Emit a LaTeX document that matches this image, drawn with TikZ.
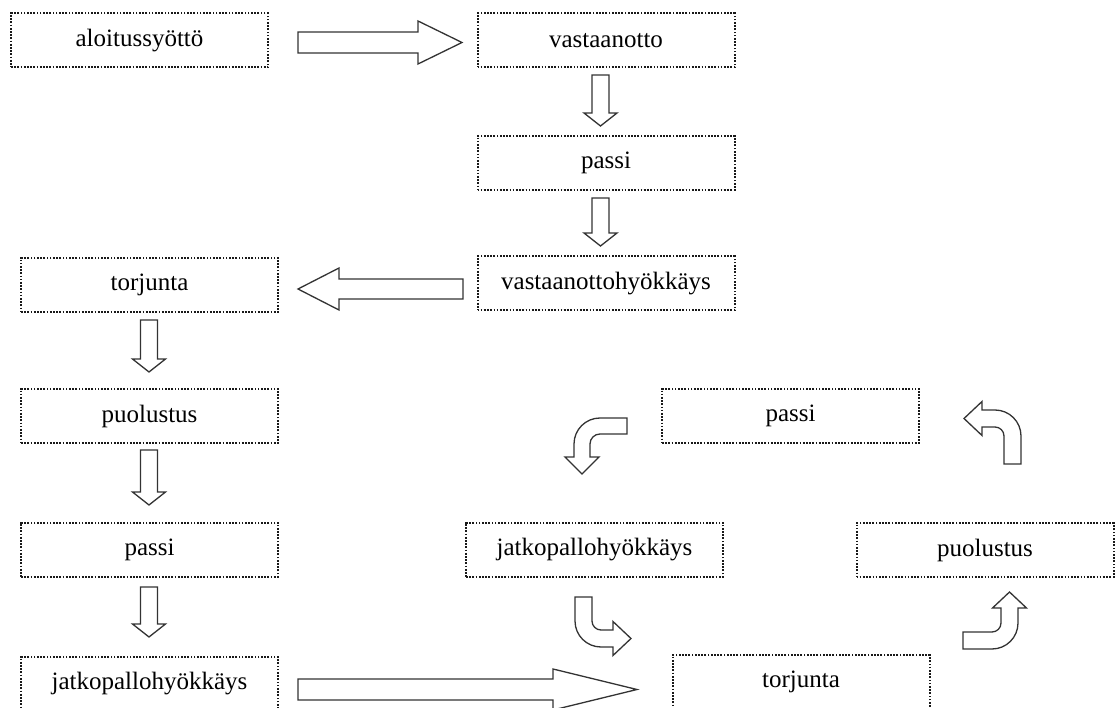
\documentclass[tikz,border=0pt]{standalone}
\usepackage{fontspec}
\setmainfont{Liberation Serif}
\begin{document}
\begin{tikzpicture}[x=1pt,y=-1pt,
  stagebox/.style={draw=black!90, line width=2pt, dash pattern=on 1.7pt off 1.5pt,
    minimum width=257pt, minimum height=54pt, inner sep=0pt,
    font=\fontsize{25pt}{30pt}\selectfont, text=black},
  blockarrow/.style={draw=black!80, line width=1.3pt, fill=white, line join=miter}]
\clip (0,0) rectangle (1117,708);
\fill[white] (0,0) rectangle (1117,708);

% boxes
\node[stagebox] (aloitus) at (139.5,40.5) {aloitussyöttö};
\node[stagebox] (vastaanotto) at (606,40.5) {vastaanotto};
\node[stagebox] (passiA) at (606,163) {passi};
\node[stagebox] (vhyok) at (606,283.5) {vastaanottohyökkäys};
\node[stagebox] (torjA) at (149.5,285) {torjunta};
\node[stagebox] (puolA) at (149.5,416) {puolustus};
\node[stagebox] (passiB) at (149.5,549.5) {passi};
\node[stagebox] (jatkoA) at (149.5,684) {jatkopallohyökkäys};
\node[stagebox] (passiC) at (790.5,416) {passi};
\node[stagebox] (jatkoB) at (594.5,549.5) {jatkopallohyökkäys};
\node[stagebox] (puolB) at (985,550) {puolustus};
\node[stagebox] (torjB) at (801,682) {torjunta};

% straight block arrows
\draw[blockarrow] (298,32) -- (418,32) -- (418,21) -- (462,42.5) -- (418,64) -- (418,53) -- (298,53) -- cycle;
\draw[blockarrow] (298,679) -- (553,679) -- (553,669) -- (637,689.5) -- (553,710) -- (553,700) -- (298,700) -- cycle;
\draw[blockarrow] (463,279) -- (339,279) -- (339,268) -- (298,289) -- (339,310) -- (339,299) -- (463,299) -- cycle;

\draw[blockarrow] (592,75) -- (609,75) -- (609,113) -- (617,113) -- (600.5,126) -- (584,113) -- (592,113) -- cycle;
\draw[blockarrow] (592,198) -- (609,198) -- (609,233) -- (617,233) -- (600.5,246) -- (584,233) -- (592,233) -- cycle;

\draw[blockarrow] (140.5,320) -- (157.5,320) -- (157.5,359) -- (165.5,359) -- (149,372) -- (132.5,359) -- (140.5,359) -- cycle;
\draw[blockarrow] (140.5,450) -- (157.5,450) -- (157.5,492) -- (165.5,492) -- (149,505) -- (132.5,492) -- (140.5,492) -- cycle;
\draw[blockarrow] (140.5,587) -- (157.5,587) -- (157.5,624) -- (165.5,624) -- (149,637) -- (132.5,624) -- (140.5,624) -- cycle;

% curved block arrows
\draw[blockarrow] (627,418) -- (600,418) arc[start angle=90, end angle=180, radius=26pt]
  -- (574,457) -- (565,457) -- (582,474) -- (599,457) -- (590,457) -- (590,444)
  arc[start angle=180, end angle=90, radius=10pt] -- (627,434) -- cycle;

\draw[blockarrow] (1004,464) -- (1021,464) -- (1021,436) arc[start angle=0, end angle=90, radius=26pt]
  -- (982,410) -- (982,401.5) -- (964,418.5) -- (982,435.5) -- (982,427) -- (995,427)
  arc[start angle=90, end angle=0, radius=9pt] -- cycle;

\draw[blockarrow] (575,597) -- (592,597) -- (592,621) arc[start angle=180, end angle=270, radius=9pt]
  -- (613,630) -- (613,621.5) -- (631,638.5) -- (613,655.5) -- (613,647) -- (601,647)
  arc[start angle=270, end angle=180, radius=26pt] -- cycle;

\draw[blockarrow] (963,632) -- (992,632) arc[start angle=270, end angle=360, radius=9pt]
  -- (1001,608) -- (992.5,608) -- (1009.5,592) -- (1026.5,608) -- (1018,608) -- (1018,623)
  arc[start angle=0, end angle=-90, radius=26pt] -- (963,649) -- cycle;
\end{tikzpicture}
\end{document}
